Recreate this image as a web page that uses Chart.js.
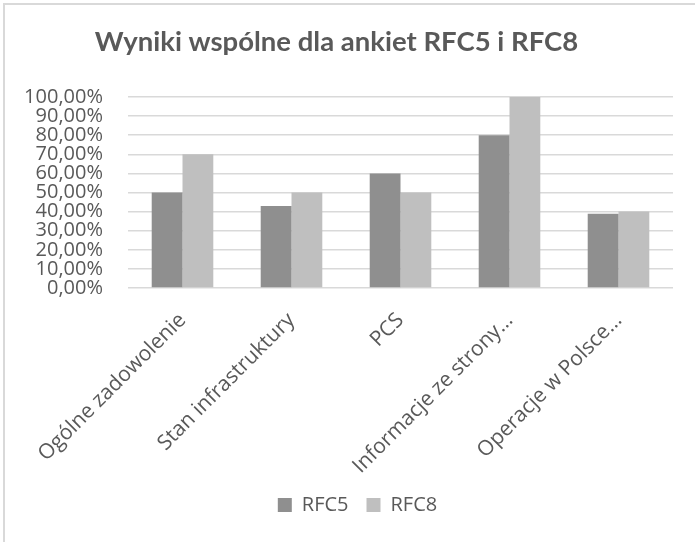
<!DOCTYPE html>
<html>
<head>
<meta charset="utf-8">
<script src="https://cdn.jsdelivr.net/npm/chart.js@4/dist/chart.umd.min.js"></script>
<style>
	html, body { margin: 0; padding: 0; background: #fff; overflow: hidden; }
	#wrap { position: relative; width: 695px; height: 542px; }
	#frame { position: absolute; left: 3px; top: 3px; width: 800px; height: 800px; border: 2px solid #d9d9d9; pointer-events: none; }
</style>
</head>
<body>
<div id="wrap">
	<canvas id="wyniki" width="695" height="542"></canvas>
	<div id="frame"></div>
</div>
<script>
	const categories = ["Ogólne zadowolenie", "Stan infrastruktury", "PCS", "Informacje ze strony…", "Operacje w Polsce…"];
	const rfc5 = [50, 42.9, 60, 80, 38.9];
	const rfc8 = [70, 50, 50, 100, 40];
	const seriesNames = ["RFC5", "RFC8"];
	const textColor = "#595959";

	const ctx = document.getElementById("wyniki");

	// legend in the original sits a bit right of the middle
	const legendShift = {
		id: "legendShift",
		afterLayout: function (chart) {
			chart.legend.left += 21;
			chart.legend.right += 21;
		},
	};

	new Chart(ctx, {
		type: "bar",
		data: {
			labels: categories,
			datasets: [
				{
					label: seriesNames[0],
					data: rfc5,
					backgroundColor: "#8f8f8f",
				},
				{
					label: seriesNames[1],
					data: rfc8,
					backgroundColor: "#bfbfbf",
				},
			],
		},
		plugins: [legendShift],
		options: {
			responsive: false,
			animation: false,
			layout: {
				padding: { left: 0, right: 22, top: 0, bottom: 17 },
			},
			datasets: {
				bar: {
					categoryPercentage: 0.565,
					barPercentage: 1,
				},
			},
			plugins: {
				title: {
					display: true,
					text: "Wyniki wspólne dla ankiet RFC5 i RFC8",
					color: textColor,
					font: { family: "Lato", size: 27.5, weight: "bold" },
					padding: { top: 26, bottom: 38 },
				},
				legend: {
					position: "bottom",
					labels: {
						color: textColor,
						font: { family: "Open Sans", size: 20 },
						boxWidth: 14,
						boxHeight: 14,
						padding: 18,
					},
				},
				tooltip: { enabled: false },
			},
			scales: {
				x: {
					grid: { display: false },
					border: { display: false },
					ticks: {
						color: textColor,
						font: { family: "Open Sans", size: 21 },
						maxRotation: 45,
						minRotation: 45,
						padding: 12,
						autoSkip: false,
					},
					afterFit: function (scale) {
						scale.height = 189;
					},
				},
				y: {
					min: 0,
					max: 100,
					grid: { color: "#d9d9d9", lineWidth: 1.5, drawTicks: false },
					border: { display: false },
					ticks: {
						stepSize: 10,
						autoSkip: false,
						color: textColor,
						padding: 25,
						font: { family: "Open Sans", size: 20, lineHeight: 1 },
						callback: function (value) {
							return value.toFixed(2).replace(".", ",") + "%";
						},
					},
					afterFit: function (scale) {
						scale.width = 128;
					},
				},
			},
		},
	});
</script>
</body>
</html>
